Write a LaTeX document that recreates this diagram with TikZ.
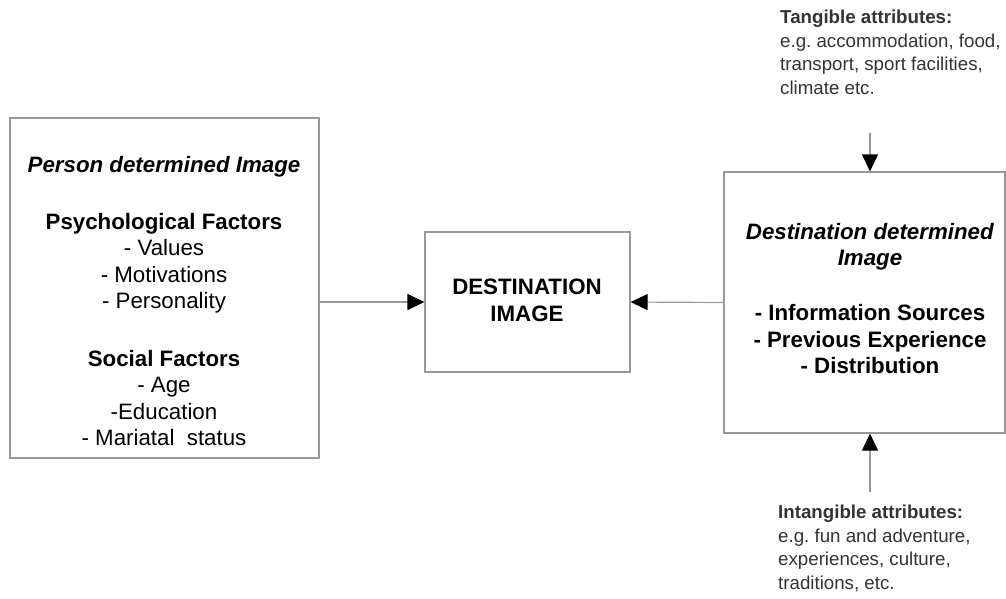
\documentclass[tikz,border=0pt]{standalone}
\usepackage{fontspec}
\setmainfont{Liberation Sans}
\usetikzlibrary{arrows.meta,positioning}
\definecolor{linegray}{gray}{0.6}
\definecolor{notegray}{gray}{0.2}
\frenchspacing
\begin{document}
\begin{tikzpicture}
		[x=1pt,y=-1pt,
		box/.style={draw=linegray,line width=1.2pt,rectangle,inner sep=0pt},
		label text/.style={inner sep=0pt,align=center,font=\fontsize{22.3}{26.5}\selectfont},
		note text/.style={inner sep=0pt,align=left,text=notegray,font=\fontsize{18.7}{23.5}\selectfont},
		link/.style={draw=linegray,line width=1.2pt,-{Triangle[length=17pt,width=16pt,fill=black,color=black]}}]
		\useasboundingbox (0,0) rectangle (1006,598);

		% the three boxes
		\node[box,minimum width=309pt,minimum height=340pt] (personBox) at (164.5,288) {};
		\node[box,minimum width=205pt,minimum height=140pt] (destImage) at (527.5,302) {};
		\node[box,minimum width=281pt,minimum height=261pt] (destBox) at (864.5,302.5) {};

		% texts in the boxes
		\node[label text,anchor=north] (personText) at (164,156) {\textbf{\textit{Person determined Image}}\\[30.5pt]
			\textbf{Psychological Factors}\\ - Values\\ - Motivations\\ - Personality\\[31pt]
			\textbf{Social Factors}\\ - Age\\ -Education\\ - Mariatal\ \ status};
		\node[label text,anchor=north] (imageText) at (527,279) {\textbf{DESTINATION}\\ \textbf{IMAGE}};
		\node[label text,anchor=north] (destText) at (870,223) {\textbf{\textit{Destination determined}}\\ \textbf{\textit{Image}}\\[28.5pt]
			\textbf{- Information Sources}\\ \textbf{- Previous Experience}\\ \textbf{- Distribution}};

		% attribute notes
		\node[note text,anchor=north west] (tangNote) at (780,10) {\textbf{Tangible attributes:}\\
			e.g. accommodation, food,\\ transport, sport facilities,\\ climate etc.};
		\node[note text,anchor=north west] (intangNote) at (778,505) {\textbf{Intangible attributes:}\\
			e.g. fun and adventure,\\ experiences, culture,\\ traditions, etc.};
		\coordinate (tangEnd) at (870,133);
		\coordinate (intangEnd) at (870,492);

		% the arrows
		\draw[link] (personBox.east |- destImage.west) -- (destImage.west);
		\draw[link] (destBox.west) -- (destImage.east);
		\draw[link] (tangEnd) -- (tangEnd |- destBox.north);
		\draw[link] (intangEnd) -- (intangEnd |- destBox.south);
	\end{tikzpicture}
\end{document}
